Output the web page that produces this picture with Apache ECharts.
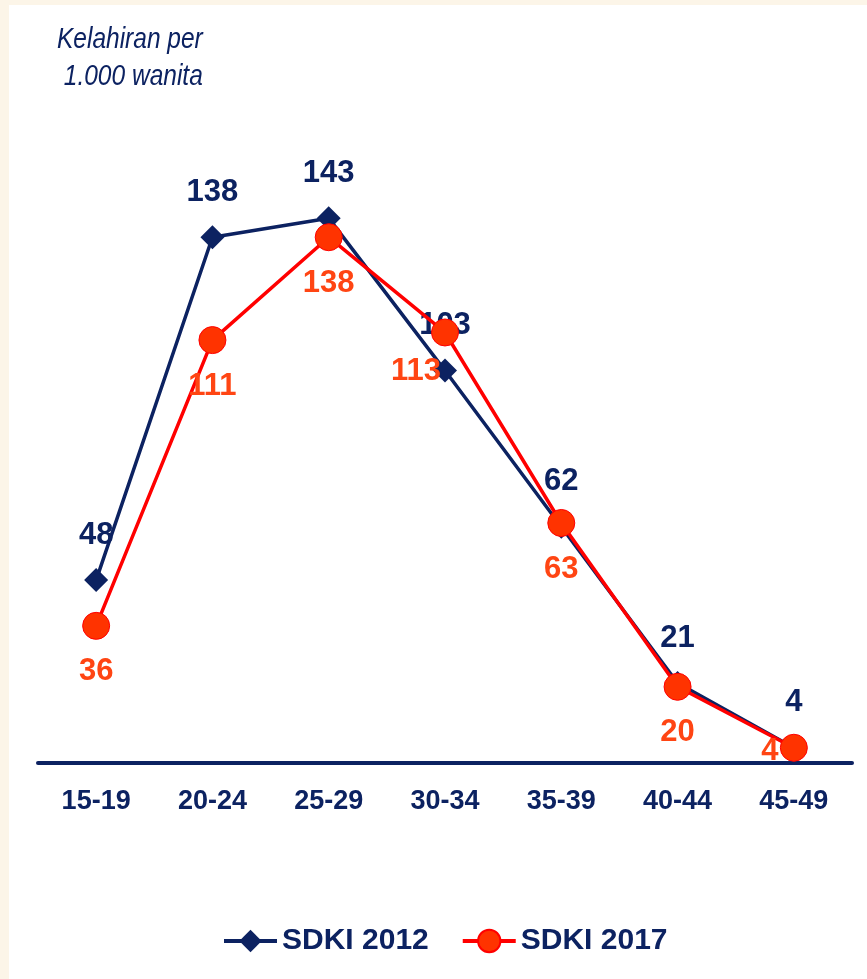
<!DOCTYPE html>
<html>
<head>
<meta charset="utf-8">
<script src="https://cdn.jsdelivr.net/npm/echarts@6/dist/echarts.min.js"></script>
<style>
html,body{margin:0;padding:0;background:#fcf5e8;}
#c{width:867px;height:979px;}
</style>
</head>
<body>
<div id="c"></div>
<script>
var categories = ['15-19','20-24','25-29','30-34','35-39','40-44','45-49'];
var sdki2012 = [48, 138, 143, 103, 62, 21, 4];
var sdki2017 = [36, 111, 138, 113, 63, 20, 4];
var seriesNames = ['SDKI 2012', 'SDKI 2017'];
var yTitleLines = ['Kelahiran per', ' 1.000 wanita'];

var NAVY = '#0c2261';
var RED = '#ff0000';
var ORANGE = '#ff4513';
var FONT = 'Liberation Sans, Arial, sans-serif';

var chart = echarts.init(document.getElementById('c'));

var d2017 = sdki2017.map(function (v, i) {
  var item = { value: v };
  if (i === 3) item.label = { offset: [-29, -7] };
  if (i === 6) item.label = { offset: [-24, -42] };
  return item;
});

chart.setOption({
  backgroundColor: '#fcf5e8',
  animation: false,
  graphic: [{
    type: 'rect', left: 9, top: 5, z: -10,
    shape: { width: 858, height: 974 },
    style: { fill: '#ffffff' }, silent: true
  }, {
    type: 'text', x: 57, y: 21, scaleX: 0.845,
    style: { text: yTitleLines.join('\n'), font: 'italic 29px Liberation Sans, Arial, sans-serif', fill: NAVY, lineHeight: 37 }
  }],
  legend: {
    data: seriesNames,
    left: 222, top: 926, padding: 0,
    itemWidth: 53, itemHeight: 28, itemGap: 32,
    lineStyle: { width: 4 },
    textStyle: { fontFamily: FONT, fontSize: 30, fontWeight: 'bold', color: NAVY }
  },
  grid: { left: 38, right: 15, top: 191.5, bottom: 216 },
  xAxis: {
    type: 'category',
    data: categories,
    boundaryGap: true,
    axisLine: { lineStyle: { color: NAVY, width: 4 } },
    axisTick: { show: false },
    axisLabel: { margin: 25, fontFamily: FONT, fontSize: 27, fontWeight: 'bold', color: NAVY }
  },
  yAxis: {
    type: 'value', min: 0, max: 150,
    show: false, splitLine: { show: false }
  },
  series: [{
    name: seriesNames[0],
    type: 'line',
    data: sdki2012,
    symbol: 'diamond', symbolSize: 24,
    lineStyle: { color: NAVY, width: 3.5 },
    itemStyle: { color: NAVY },
    label: { show: true, position: 'top', distance: 18, fontFamily: FONT, fontSize: 31, fontWeight: 'bold', color: NAVY, lineHeight: 30 },
    z: 2
  }, {
    name: seriesNames[1],
    type: 'line',
    data: d2017,
    symbol: 'circle', symbolSize: 27,
    lineStyle: { color: RED, width: 3.5 },
    itemStyle: { color: '#ff3300', borderColor: '#ff0000', borderWidth: 1 },
    label: { show: true, position: 'bottom', distance: 17, fontFamily: FONT, fontSize: 31, fontWeight: 'bold', color: ORANGE, lineHeight: 30 },
    z: 3
  }]
});
</script>
</body>
</html>
